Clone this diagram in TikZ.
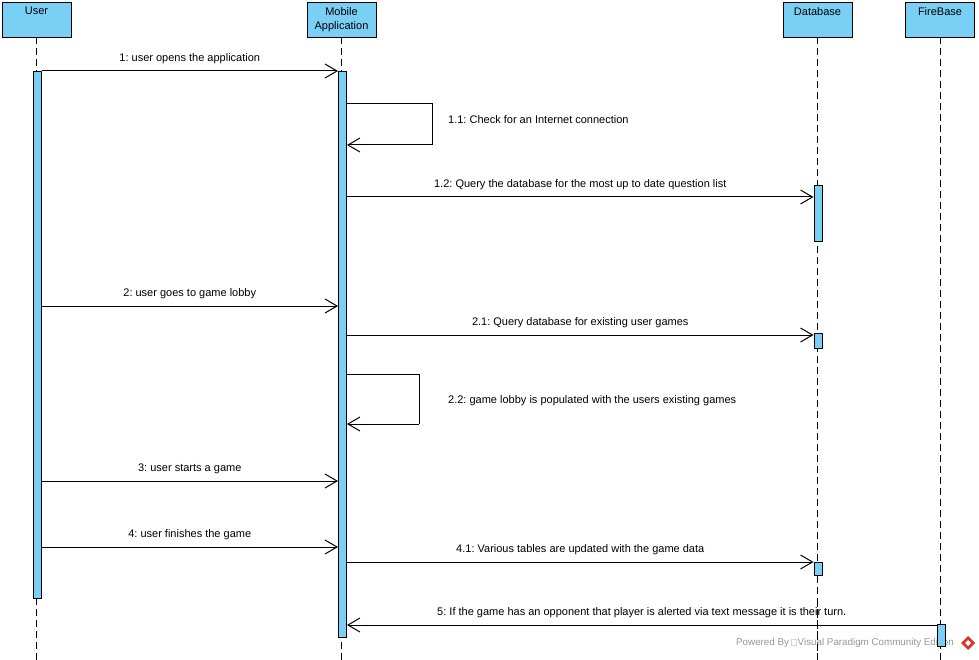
\documentclass[tikz,border=0pt]{standalone}
\usepackage{fontspec}
\setmainfont{Liberation Sans}
\usetikzlibrary{arrows.meta}
\definecolor{vpblue}{RGB}{122,207,245}
\definecolor{vpgray}{RGB}{150,150,150}
\definecolor{vpred}{RGB}{220,50,45}
\frenchspacing

\begin{document}
\begin{tikzpicture}[x=1pt,y=-1pt,
  every node/.style={font=\fontsize{11}{14.5}\selectfont},
  head/.style={draw, fill=vpblue, line width=1pt, minimum width=69pt,
    minimum height=35pt, inner sep=0, anchor=north},
  headtext/.style={anchor=north, yshift=-5pt, inner sep=0, align=center},
  lifeline/.style={line width=0.8pt, dash pattern=on 7pt off 4pt},
  actbar/.style={draw, fill=vpblue, line width=1pt, minimum width=8pt,
    inner sep=0, anchor=north},
  msg/.style={line width=1pt, -{Straight Barb[length=12pt,width=14pt,line width=1pt]}},
  msglabel/.style={inner sep=0, yshift=12pt}
]
\useasboundingbox (0,0) rectangle (979,660);

% lifelines
\draw[lifeline] (36.5,37) -- (36.5,660);
\draw[lifeline] (341.5,37) -- (341.5,660);
\draw[lifeline] (817.5,37) -- (817.5,660);
\draw[lifeline] (940,37) -- (940,660);

% watermark
\node[anchor=west, inner sep=0, text=vpgray, font=\fontsize{9.8}{11}\selectfont] (wm) at (736,643)
  {Powered By\hspace{1.5pt}\textcolor{vpgray!40}{\rule{0.6pt}{7pt}\rule[6.4pt]{5pt}{0.6pt}\hspace{-5pt}\rule{5pt}{0.6pt}\rule{0.6pt}{7pt}}\hspace{1pt}Visual Paradigm Community Edition};
\fill[vpred] (968,636) -- (975,643) -- (968,650) -- (961,643) -- cycle;
\fill[white] (968,640) -- (971,643) -- (968,646) -- (965,643) -- cycle;
\draw[lifeline] (817.5,600) -- (817.5,660);

% participants
\node[head] (hUser) at (36.5,2) {};
\node[headtext] at (hUser.north) {User};
\node[head] (hApp) at (341.5,2) {};
\node[headtext] at (hApp.north) {Mobile\\Application};
\node[head] (hDb) at (817.5,2) {};
\node[headtext] at (hDb.north) {Database};
\node[head] (hFb) at (940,2) {};
\node[headtext] at (hFb.north) {FireBase};

% activation bars
\node[actbar, minimum height=527pt] (aUser) at (37,71) {};
\node[actbar, minimum height=566pt] (aApp) at (342.5,71) {};
\node[actbar, minimum height=56pt] (aDb1) at (818,185) {};
\node[actbar, minimum height=15pt] (aDb2) at (818,333) {};
\node[actbar, minimum height=13pt] (aDb3) at (818,562) {};
\node[actbar, minimum height=22pt] (aFb) at (941,624) {};

% messages
\draw[msg] (aUser.east |- 0,71) -- (aApp.west |- 0,71)
  node[midway, msglabel] {1: user opens the application};

\coordinate (l1a) at (432,104);
\coordinate (l1b) at (432,145);
\draw[line width=1pt] (aApp.east |- l1a) -- (l1a) -- (l1b);
\draw[msg] (l1b) -- (aApp.east |- l1b);
\node[anchor=west, inner sep=0] at (448,120) {1.1: Check for an Internet connection};

\draw[msg] (aApp.east |- 0,197) -- (aDb1.west |- 0,197)
  node[midway, msglabel] {1.2: Query the database for the most up to date question list};

\draw[msg] (aUser.east |- 0,306) -- (aApp.west |- 0,306)
  node[midway, msglabel] {2: user goes to game lobby};

\draw[msg] (aApp.east |- 0,335) -- (aDb2.west |- 0,335)
  node[midway, msglabel] {2.1: Query database for existing user games};

\coordinate (l2a) at (419,374);
\coordinate (l2b) at (419,424);
\draw[line width=1pt] (aApp.east |- l2a) -- (l2a) -- (l2b);
\draw[msg] (l2b) -- (aApp.east |- l2b);
\node[anchor=west, inner sep=0] at (448,401) {2.2: game lobby is populated with the users existing games};

\draw[msg] (aUser.east |- 0,481) -- (aApp.west |- 0,481)
  node[midway, msglabel] {3: user starts a game};

\draw[msg] (aUser.east |- 0,547) -- (aApp.west |- 0,547)
  node[midway, msglabel] {4: user finishes the game};

\draw[msg] (aApp.east |- 0,562) -- (aDb3.west |- 0,562)
  node[midway, msglabel] {4.1: Various tables are updated with the game data};

\draw[msg] (aFb.west |- 0,625) -- (aApp.east |- 0,625)
  node[midway, msglabel] {5: If the game has an opponent that player is alerted via text message it is their turn.};
\end{tikzpicture}
\end{document}
